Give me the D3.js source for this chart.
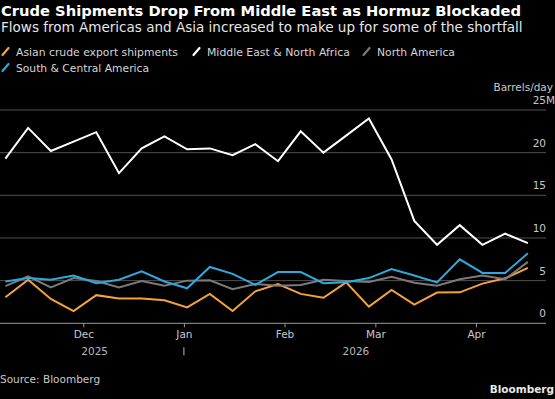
<!DOCTYPE html>
<html><head><meta charset="utf-8">
<script src="https://cdn.jsdelivr.net/npm/d3@7"></script>
<style>
html,body{margin:0;padding:0;background:#000;}
svg{display:block;font-family:"DejaVu Sans",sans-serif;}
</style></head>
<body>
<svg id="chart" width="555" height="399"></svg>
<script>
// ---- data ----
const weeks = ["2025-11-07","2025-11-14","2025-11-21","2025-11-28","2025-12-05","2025-12-12","2025-12-19","2025-12-26",
  "2026-01-02","2026-01-09","2026-01-16","2026-01-23","2026-01-30","2026-02-06","2026-02-13","2026-02-20","2026-02-27",
  "2026-03-06","2026-03-13","2026-03-20","2026-03-27","2026-04-03","2026-04-10","2026-04-17"];
const asianCrude   = [3.05,5.1,2.85,1.44,3.3,2.9,2.9,2.7,1.87,3.45,1.44,3.75,4.6,3.45,3.0,4.8,1.95,3.9,2.2,3.6,3.63,4.65,5.27,6.5];
const middleEastNA = [19.3,22.9,20.2,21.3,22.4,17.6,20.5,21.9,20.4,20.5,19.7,21.0,19.0,22.5,20.0,22.0,24.0,19.2,12.0,9.2,11.5,9.2,10.5,9.4];
const northAmerica = [4.35,5.5,4.2,5.3,4.95,4.2,4.95,4.4,5.0,5.05,4.0,4.6,4.4,4.5,5.1,4.95,4.85,5.45,4.76,4.41,5.16,5.6,5.16,7.2];
const southCentral = [4.9,5.3,5.1,5.6,4.7,5.1,6.1,4.9,4.1,6.6,5.8,4.5,6.0,6.0,4.7,4.8,5.3,6.35,5.6,4.8,7.5,5.9,5.9,8.2];
const seriesNames  = ["Asian crude export shipments","Middle East & North Africa","North America","South & Central America"];
const seriesColors = ["#f5a33c","#ffffff","#7a7a7a","#2fa9dd"];
const yTicks = [0,5,10,15,20,25];
const monthTicks = ["2025-12-01","2026-01-01","2026-02-01","2026-03-01","2026-04-01"];

const title = "Crude Shipments Drop From Middle East as Hormuz Blockaded";
const subtitle = "Flows from Americas and Asia increased to make up for some of the shortfall";
const unitLabel = "Barrels/day";
const sourceText = "Source: Bloomberg";
const brand = "Bloomberg";

// ---- setup ----
const parse = d3.utcParse("%Y-%m-%d");
const dates = weeks.map(parse);
const allSeries = [asianCrude, middleEastNA, northAmerica, southCentral];
const svg = d3.select("#chart");
const plotL = 0, plotR = 546, plotTop = 110, plotBot = 323.3;

function fitText(sel, targetW, baseSize) {
  sel.style("font-size", baseSize + "px");
  const w = sel.node().getComputedTextLength();
  sel.style("font-size", (baseSize * targetW / w).toFixed(2) + "px");
}

// header
fitText(svg.append("text").attr("x", 1).attr("y", 15.5).attr("fill", "#fff")
  .attr("font-weight", "bold").text(title), 520, 16);
fitText(svg.append("text").attr("x", 1).attr("y", 32).attr("fill", "#e6e6e6")
  .text(subtitle), 522, 14);

// legend
const legendPos = [[2, 56], [193, 56], [363, 56], [2, 72]];
const legendW = [162, 143, 78, 133];
seriesNames.forEach((n, i) => {
  const [lx, ly] = legendPos[i];
  const g = svg.append("g").attr("transform", `translate(${lx},${ly})`);
  g.append("line").attr("x1", 0.5).attr("y1", -1).attr("x2", 6.5).attr("y2", -8)
    .attr("stroke", seriesColors[i]).attr("stroke-width", 2.2).attr("stroke-linecap", "round");
  fitText(g.append("text").attr("x", 14).attr("y", 0).attr("fill", "#d6d6d6").text(n), legendW[i], 12);
});

// scales
const x = d3.scaleUtc()
  .domain([d3.utcHour.offset(dates[0], -40), d3.utcHour.offset(dates[dates.length - 1], 134)])
  .range([plotL, plotR]);
const y = d3.scaleLinear().domain([0, 25]).range([plotBot, plotTop]);

// gridlines + y labels
const yg = svg.append("g");
yTicks.forEach(t => {
  if (t > 0) yg.append("line").attr("x1", plotL).attr("x2", plotR)
    .attr("y1", y(t)).attr("y2", y(t)).attr("stroke", "#505050").attr("stroke-width", 1);
  yg.append("text").attr("x", plotR).attr("y", y(t) - 6).attr("text-anchor", "end")
    .attr("fill", "#c8c8c8").style("font-size", "10.5px").text(t);
  if (t === 25) yg.append("text").attr("x", plotR).attr("y", y(t) - 6)
    .attr("fill", "#c8c8c8").style("font-size", "10.5px").text("M");
});
svg.append("text").attr("x", 553).attr("y", y(25) - 19).attr("text-anchor", "end")
  .attr("fill", "#c8c8c8").style("font-size", "10.5px").text(unitLabel);

// lines
const line = d3.line().x((d, i) => x(dates[i])).y(d => y(d));
[0, 1, 2, 3].forEach(i => {
  svg.append("path").datum(allSeries[i]).attr("d", line).attr("fill", "none")
    .attr("stroke", seriesColors[i]).attr("stroke-width", 2)
    .attr("stroke-linejoin", "miter").attr("stroke-linecap", "butt");
});

// x axis
const xAxis = d3.axisBottom(x).tickValues(monthTicks.map(parse))
  .tickFormat(d3.utcFormat("%b")).tickSize(4).tickSizeOuter(0);
const ax = svg.append("g").attr("transform", `translate(0,${plotBot})`).call(xAxis);
ax.select(".domain").attr("stroke", "#9a9a9a").attr("stroke-width", 1)
  .attr("d", `M${plotL},0H${plotR}`);
ax.selectAll(".tick line").attr("stroke", "#9a9a9a");
ax.selectAll(".tick text").attr("fill", "#c8c8c8").style("font-size", "10.5px")
  .style("font-family", "DejaVu Sans").attr("dy", "0.71em").attr("y", 7);

// year labels centred on the data span of each year, separator at Jan 1
const jan1 = parse("2026-01-01");
const years = d3.groups(dates, d => d.getUTCFullYear());
years.forEach(([yr, ds]) => {
  const lo = yr === 2025 ? x(ds[0]) : x(jan1);
  const hi = yr === 2025 ? x(jan1) : x(ds[ds.length - 1]);
  svg.append("text").attr("x", (lo + hi) / 2).attr("y", plotBot + 32).attr("text-anchor", "middle")
    .attr("fill", "#b8b8b8").style("font-size", "10.5px").text(yr);
});
svg.append("line").attr("x1", x(jan1)).attr("x2", x(jan1))
  .attr("y1", plotBot + 24).attr("y2", plotBot + 32).attr("stroke", "#b8b8b8").attr("stroke-width", 1);

// footer
svg.append("text").attr("x", 0).attr("y", 383).attr("fill", "#c8c8c8")
  .style("font-size", "10.5px").text(sourceText);
svg.append("text").attr("x", 554).attr("y", 393).attr("text-anchor", "end").attr("fill", "#e8e8e8")
  .attr("font-weight", "bold").style("font-size", "10.5px").text(brand);
</script>
</body></html>
